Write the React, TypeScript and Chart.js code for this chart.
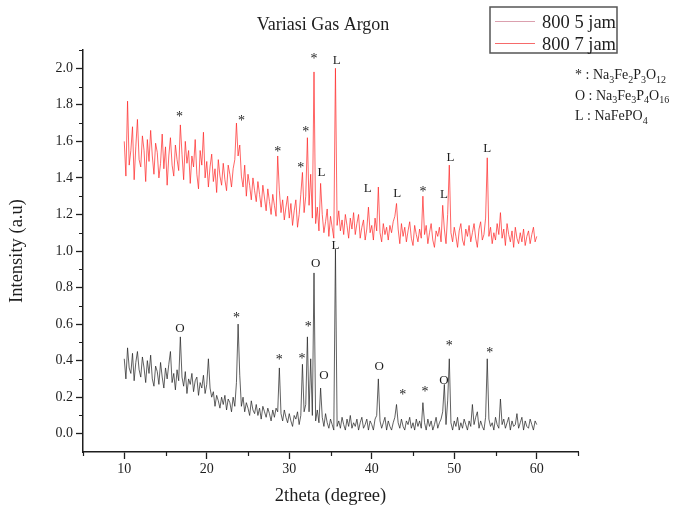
import { useEffect, useRef } from 'react';
import { Chart, registerables } from 'chart.js';

Chart.register(...registerables);

// 2theta sampling grid (degrees), 10.0 .. 60.0 step 0.2
const twoTheta: number[] = Array.from({ length: 251 }, (_, i) => Math.round((10 + i * 0.2) * 10) / 10);

// Intensity, 800 °C 5 jam (black trace)
const intensity5jam: number[] = [
  0.41, 0.30, 0.47, 0.36, 0.33, 0.44, 0.29, 0.39, 0.45, 0.35,
  0.31, 0.42, 0.36, 0.28, 0.40, 0.33, 0.43, 0.30, 0.26, 0.37,
  0.34, 0.27, 0.39, 0.31, 0.25, 0.36, 0.30, 0.38, 0.45, 0.28,
  0.33, 0.24, 0.35, 0.29, 0.53, 0.31, 0.26, 0.34, 0.22, 0.30,
  0.27, 0.33, 0.23, 0.29, 0.31, 0.21, 0.28, 0.25, 0.32, 0.22,
  0.27, 0.41, 0.25, 0.20, 0.23, 0.15, 0.21, 0.18, 0.14, 0.20,
  0.16, 0.21, 0.13, 0.19, 0.17, 0.12, 0.20, 0.15, 0.28, 0.60,
  0.32, 0.15, 0.20, 0.12, 0.17, 0.14, 0.10, 0.18, 0.13, 0.11,
  0.16, 0.10, 0.14, 0.08, 0.15, 0.12, 0.09, 0.14, 0.11, 0.07,
  0.13, 0.09, 0.14, 0.12, 0.36, 0.11, 0.07, 0.13, 0.09, 0.06,
  0.11, 0.07, 0.04, 0.10, 0.08, 0.12, 0.05, 0.10, 0.38, 0.12,
  0.16, 0.53, 0.12, 0.41, 0.10, 0.88, 0.07, 0.13, 0.06, 0.25,
  0.09, 0.04, 0.11, 0.06, 0.03, 0.08, 0.05, 0.02, 1.01, 0.04,
  0.07, 0.03, 0.09, 0.05, 0.02, 0.08, 0.04, 0.10, 0.03, 0.06,
  0.04, 0.08, 0.02, 0.06, 0.09, 0.03, 0.05, 0.08, 0.02, 0.07,
  0.05, 0.02, 0.08, 0.10, 0.30, 0.07, 0.03, 0.06, 0.09, 0.02,
  0.07, 0.04, 0.02, 0.06, 0.09, 0.16, 0.06, 0.03, 0.08, 0.04,
  0.02, 0.07, 0.05, 0.09, 0.03, 0.06, 0.02, 0.08, 0.04, 0.07,
  0.03, 0.17, 0.06, 0.02, 0.08, 0.04, 0.07, 0.02, 0.05, 0.09,
  0.03, 0.06, 0.08, 0.12, 0.27, 0.05, 0.18, 0.41, 0.06, 0.02,
  0.07, 0.04, 0.09, 0.02, 0.06, 0.03, 0.08, 0.05, 0.02, 0.07,
  0.04, 0.16, 0.05, 0.09, 0.12, 0.03, 0.07, 0.04, 0.02, 0.09,
  0.41, 0.08, 0.04, 0.06, 0.02, 0.09, 0.05, 0.03, 0.19, 0.05,
  0.08, 0.03, 0.06, 0.09, 0.02, 0.07, 0.04, 0.05, 0.11, 0.03,
  0.06, 0.09, 0.02, 0.07, 0.04, 0.03, 0.08, 0.05, 0.02, 0.07,
  0.05,
];

// Intensity, 800 °C 7 jam (red trace)
const intensity7jam: number[] = [
  1.60, 1.41, 1.82, 1.47, 1.55, 1.68, 1.39, 1.57, 1.72, 1.50,
  1.46, 1.63, 1.55, 1.38, 1.61, 1.49, 1.66, 1.52, 1.42, 1.59,
  1.54, 1.40, 1.48, 1.64, 1.45, 1.57, 1.36, 1.52, 1.62, 1.47,
  1.41, 1.58, 1.50, 1.44, 1.69, 1.53, 1.39, 1.60, 1.48, 1.55,
  1.37, 1.52, 1.46, 1.61, 1.42, 1.34, 1.55, 1.47, 1.65, 1.40,
  1.49, 1.35, 1.46, 1.53, 1.38, 1.45, 1.32, 1.50, 1.41, 1.36,
  1.48, 1.39, 1.33, 1.47, 1.42, 1.35, 1.45, 1.50, 1.70, 1.52,
  1.58, 1.41, 1.35, 1.47, 1.30, 1.42, 1.36, 1.28, 1.40, 1.33,
  1.27, 1.38, 1.31, 1.24, 1.36, 1.29, 1.22, 1.34, 1.27, 1.20,
  1.31, 1.25, 1.19, 1.52, 1.33, 1.21, 1.28, 1.17, 1.24, 1.30,
  1.18, 1.26, 1.14, 1.22, 1.28, 1.13, 1.20, 1.31, 1.43, 1.21,
  1.30, 1.62, 1.25, 1.42, 1.18, 1.98, 1.15, 1.24, 1.11, 1.37,
  1.20, 1.10, 1.16, 1.23, 1.08, 1.19, 1.13, 1.07, 2.00, 1.14,
  1.22, 1.11, 1.17, 1.09, 1.20, 1.14, 1.07, 1.18, 1.12, 1.21,
  1.09, 1.15, 1.20, 1.07, 1.13, 1.17, 1.06, 1.12, 1.24, 1.10,
  1.14, 1.06, 1.18, 1.11, 1.35, 1.10, 1.05, 1.15, 1.09, 1.13,
  1.06, 1.14, 1.10, 1.16, 1.19, 1.26, 1.12, 1.04, 1.15, 1.08,
  1.13, 1.05, 1.11, 1.16, 1.07, 1.03, 1.14, 1.09, 1.05, 1.12,
  1.07, 1.30, 1.09, 1.14, 1.04, 1.10, 1.15, 1.06, 1.02, 1.11,
  1.08, 1.13, 1.05, 1.25, 1.12, 1.04, 1.20, 1.47, 1.10, 1.05,
  1.13, 1.08, 1.02, 1.11, 1.15, 1.06, 1.03, 1.12, 1.08, 1.14,
  1.05, 1.10, 1.15, 1.07, 1.02, 1.12, 1.16, 1.06, 1.09, 1.18,
  1.51, 1.08, 1.13, 1.04, 1.10, 1.06, 1.15, 1.09, 1.21, 1.07,
  1.12, 1.03, 1.15, 1.09, 1.05, 1.11, 1.02, 1.13, 1.07, 1.04,
  1.10, 1.05, 1.12, 1.03, 1.08, 1.11, 1.04, 1.09, 1.13, 1.05,
  1.08,
];

const seriesLabels = ['800 5 jam', '800 7 jam'];
const chartTitle = 'Variasi Gas Argon';
const xAxisTitle = '2theta (degree)';
const yAxisTitle = 'Intensity (a.u)';

const xMajorTicks = [10, 20, 30, 40, 50, 60];
const xMinorTicks = [5, 15, 25, 35, 45, 55, 65];
const yMajorTicks = [0, 0.2, 0.4, 0.6, 0.8, 1.0, 1.2, 1.4, 1.6, 1.8, 2.0];
const yMinorTicks = [0.1, 0.3, 0.5, 0.7, 0.9, 1.1, 1.3, 1.5, 1.7, 1.9, 2.1];

// Peak markers (phase symbols) for 5 jam trace
const peakTheta5 = [16.75, 23.6, 28.8, 31.55, 32.3, 33.2, 34.2, 35.6, 40.9, 43.75, 46.45, 48.75, 49.4, 54.3];
const peakY5 = [0.575, 0.64, 0.41, 0.42, 0.595, 0.93, 0.317, 1.03, 0.366, 0.22, 0.235, 0.293, 0.49, 0.45];
const peakMark5 = ['O', '*', '*', '*', '*', 'O', 'O', 'L', 'O', '*', '*', 'O', '*', '*'];

// Peak markers for 7 jam trace
const peakTheta7 = [16.7, 24.2, 28.6, 31.4, 32.0, 33.0, 33.9, 35.75, 39.5, 43.1, 46.2, 48.75, 49.55, 54.0];
const peakY7 = [1.74, 1.72, 1.55, 1.465, 1.66, 2.06, 1.43, 2.04, 1.34, 1.315, 1.33, 1.31, 1.51, 1.56];
const peakMark7 = ['*', '*', '*', '*', '*', '*', 'L', 'L', 'L', 'L', '*', 'L', 'L', 'L'];

// Phase key
const phaseMarks = ['*', 'O', 'L'];
const phaseFormulas: [string, string][][] = [
  [['Na', '3'], ['Fe', '2'], ['P', '3'], ['O', '12']],
  [['Na', '3'], ['Fe', '3'], ['P', '4'], ['O', '16']],
  [['NaFePO', '4']],
];

const SERIF = '"Liberation Serif", "Times New Roman", serif';
const INK = '#1e1e1e';

const decorPlugin = {
  id: 'decor',
  afterDraw(chart: any) {
    const { ctx, chartArea, scales } = chart;
    const xs = scales.x;
    const ys = scales.y;
    ctx.save();

    // minor ticks
    ctx.strokeStyle = INK;
    ctx.lineWidth = 1.2;
    ctx.beginPath();
    yMinorTicks.forEach((v) => {
      const py = Math.round(ys.getPixelForValue(v)) + 0.5;
      ctx.moveTo(chartArea.left - 4, py);
      ctx.lineTo(chartArea.left, py);
    });
    xMinorTicks.forEach((v) => {
      const px = Math.round(xs.getPixelForValue(v)) + 0.5;
      ctx.moveTo(px, chartArea.bottom);
      ctx.lineTo(px, chartArea.bottom + 4);
    });
    ctx.stroke();

    // peak markers
    ctx.fillStyle = INK;
    ctx.textAlign = 'center';
    ctx.textBaseline = 'middle';
    const drawMarks = (th: number[], yy: number[], mk: string[]) => {
      th.forEach((t, i) => {
        ctx.font = mk[i] === '*' ? `14px ${SERIF}` : `13px ${SERIF}`;
        ctx.fillText(mk[i], xs.getPixelForValue(t), ys.getPixelForValue(yy[i]) + (mk[i] === '*' ? 2 : 0));
      });
    };
    drawMarks(peakTheta5, peakY5, peakMark5);
    drawMarks(peakTheta7, peakY7, peakMark7);

    // title
    ctx.font = `18px ${SERIF}`;
    ctx.textAlign = 'center';
    ctx.textBaseline = 'alphabetic';
    ctx.fillText(chartTitle, 323, 30);

    // legend box
    const bx = chartArea.right - 88;
    const by = 7;
    const bw = 127;
    const bh = 46;
    ctx.strokeStyle = '#555';
    ctx.lineWidth = 1.5;
    ctx.strokeRect(bx, by, bw, bh);
    const sampleColors = ['rgba(215,150,165,0.9)', 'rgba(245,90,90,0.9)'];
    seriesLabels.forEach((lab, i) => {
      const ly = by + 14 + i * 22;
      ctx.strokeStyle = sampleColors[i];
      ctx.lineWidth = 1;
      ctx.beginPath();
      ctx.moveTo(bx + 5, ly + 0.5);
      ctx.lineTo(bx + 45, ly + 0.5);
      ctx.stroke();
      ctx.fillStyle = INK;
      ctx.font = `18.5px ${SERIF}`;
      ctx.textAlign = 'left';
      ctx.textBaseline = 'alphabetic';
      ctx.fillText(lab, bx + 52, ly + 7);
    });

    // phase key
    ctx.fillStyle = INK;
    ctx.textAlign = 'left';
    ctx.textBaseline = 'alphabetic';
    phaseMarks.forEach((mk, i) => {
      let cx = chartArea.right - 3;
      const cy = chartArea.top + 29 + i * 20.5;
      ctx.font = `14px ${SERIF}`;
      const prefix = mk + ' : ';
      ctx.fillText(prefix, cx, cy);
      cx += ctx.measureText(prefix).width;
      phaseFormulas[i].forEach(([el, sub]) => {
        ctx.font = `14px ${SERIF}`;
        ctx.fillText(el, cx, cy);
        cx += ctx.measureText(el).width;
        if (sub) {
          ctx.font = `10px ${SERIF}`;
          ctx.fillText(sub, cx, cy + 3.5);
          cx += ctx.measureText(sub).width;
        }
      });
    });

    ctx.restore();
  },
};

export default function App() {
  const canvasRef = useRef<HTMLCanvasElement | null>(null);

  useEffect(() => {
    const canvas = canvasRef.current;
    if (!canvas) return;
    const chart = new Chart(canvas, {
      type: 'line',
      data: {
        datasets: [
          {
            label: seriesLabels[0],
            data: twoTheta.map((t, i) => ({ x: t, y: intensity5jam[i] })),
            borderColor: 'rgba(35,35,35,0.8)',
            borderWidth: 0.9,
            pointRadius: 0,
            tension: 0,
          },
          {
            label: seriesLabels[1],
            data: twoTheta.map((t, i) => ({ x: t, y: intensity7jam[i] })),
            borderColor: 'rgba(255,40,40,0.8)',
            borderWidth: 0.9,
            pointRadius: 0,
            tension: 0,
          },
        ],
      },
      options: {
        animation: false,
        responsive: false,
        devicePixelRatio: 1,
        layout: { padding: { top: 50, right: 97, left: 0, bottom: 0 } },
        plugins: {
          legend: { display: false },
          title: { display: false },
          tooltip: { enabled: false },
        },
        scales: {
          x: {
            type: 'linear',
            min: 5,
            max: 65,
            afterBuildTicks: (scale: any) => {
              scale.ticks = xMajorTicks.map((v) => ({ value: v }));
            },
            afterFit: (scale: any) => {
              scale.height = 57;
            },
            grid: {
              display: true,
              drawOnChartArea: false,
              drawTicks: true,
              tickLength: 7,
              tickWidth: 1.3,
              tickColor: INK,
            },
            border: { display: true, color: INK, width: 1.5 },
            ticks: {
              font: { family: SERIF, size: 14 },
              color: INK,
              padding: 2,
              maxRotation: 0,
              callback: (v: any) => String(v),
            },
            title: {
              display: true,
              text: xAxisTitle,
              font: { family: SERIF, size: 18.5 },
              color: INK,
              padding: { top: 0, bottom: 2 },
            },
          },
          y: {
            type: 'linear',
            min: -0.1,
            max: 2.1,
            afterBuildTicks: (scale: any) => {
              scale.ticks = yMajorTicks.map((v) => ({ value: v }));
            },
            afterFit: (scale: any) => {
              scale.width = 83;
            },
            grid: {
              display: true,
              drawOnChartArea: false,
              drawTicks: true,
              tickLength: 7,
              tickWidth: 1.3,
              tickColor: INK,
            },
            border: { display: true, color: INK, width: 1.5 },
            ticks: {
              font: { family: SERIF, size: 14 },
              color: INK,
              padding: 3,
              callback: (v: any) => Number(v).toFixed(1),
            },
            title: {
              display: true,
              text: yAxisTitle,
              font: { family: SERIF, size: 18.5 },
              color: INK,
              padding: { top: 6.5, bottom: 0 },
            },
          },
        },
      },
      plugins: [decorPlugin],
    });
    return () => chart.destroy();
  }, []);

  return (
    <div style={{ position: 'fixed', left: 0, top: 0, width: 675, height: 509, background: '#fff' }}>
      <canvas ref={canvasRef} width={675} height={509} style={{ display: 'block', width: 675, height: 509 }} />
    </div>
  );
}
